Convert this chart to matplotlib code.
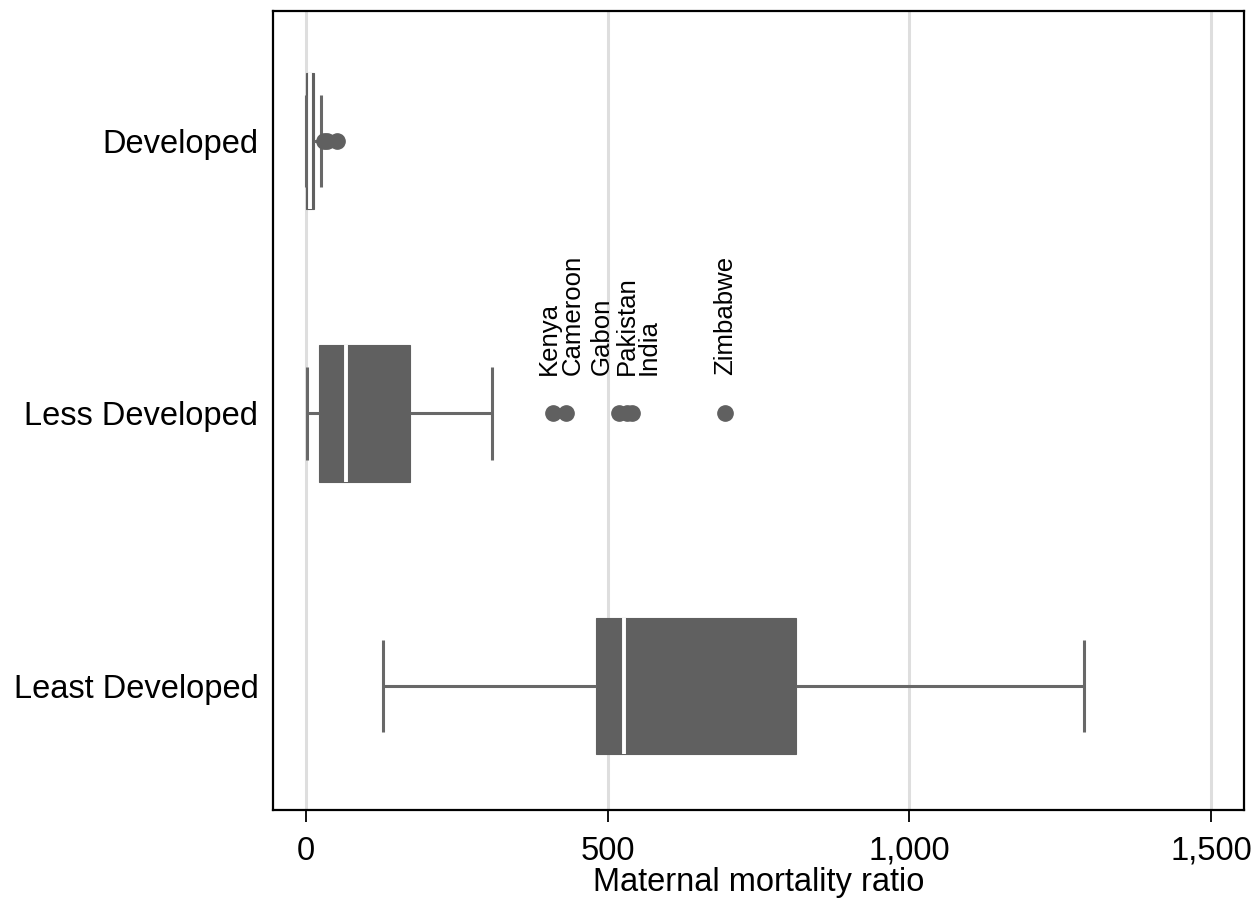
import matplotlib
matplotlib.use("Agg")
import matplotlib.pyplot as plt

plt.rcParams['font.family'] = ['Liberation Sans', 'DejaVu Sans']

# groups, top to bottom
groups = ["Developed", "Less Developed", "Least Developed"]

# box summaries
whislo = [0, 1, 128]
q1 = [0.5, 22, 481]
med = [7, 67, 527]
q3 = [13, 172, 812]
whishi = [25, 309, 1290]

dev_outliers = [30, 34, 51]
less_outliers = [409, 431, 518, 532, 541, 695]
less_names = ["Kenya", "Cameroon", "Gabon", "Pakistan", "India", "Zimbabwe"]
least_outliers = []

xticks = [0, 500, 1000, 1500]
xticklabels = ["0", "500", "1,000", "1,500"]

# label nudges in points so names do not overlap
label_dx = [-3, 5, -12, 0, 12, 0]

box_col = "#606060"
line_col = "#686868"

fig = plt.figure(figsize=(12.56, 8.98), dpi=100)
ax = fig.add_axes([273/1256, 1-810/898, (1244-273)/1256, (810-11)/898])

stats = []
fl = [dev_outliers, less_outliers, least_outliers]
for i in range(len(groups)):
    stats.append({"label": groups[i], "whislo": whislo[i], "q1": q1[i], "med": med[i],
                  "q3": q3[i], "whishi": whishi[i], "fliers": fl[i]})

ax.bxp(stats, positions=range(len(groups)), orientation="horizontal", widths=0.5,
       capwidths=0.34, patch_artist=True,
       boxprops=dict(facecolor=box_col, edgecolor=box_col, linewidth=0.8),
       whiskerprops=dict(color=line_col, linewidth=2.2, solid_capstyle="butt"),
       capprops=dict(color=line_col, linewidth=2.2, solid_capstyle="butt"),
       medianprops=dict(color="white", linewidth=2.8, solid_capstyle="butt"),
       flierprops=dict(marker="o", markerfacecolor=box_col, markeredgecolor=box_col,
                       markersize=11, linestyle="none"),
       zorder=3)

for i in range(len(less_names)):
    ax.annotate(less_names[i], xy=(less_outliers[i], 1), xytext=(label_dx[i], 28),
                textcoords="offset points", rotation=90, ha="center", va="bottom",
                fontsize=18.5, color="black")

ax.set_xlim(-54.7, 1554.8)
ax.set_ylim(2.455, -0.477)
ax.set_yticks(range(len(groups)))
ax.set_yticklabels(groups)
ax.set_xticks(xticks)
ax.set_xticklabels(xticklabels)
ax.tick_params(axis="y", length=0, pad=10.5, labelsize=23.5)
ax.tick_params(axis="x", length=8.6, width=1.3, pad=10, labelsize=23.5, direction="out")
ax.xaxis.grid(True, color="#dedede", linewidth=2.2, zorder=0)
ax.set_axisbelow(True)
for s in ax.spines.values():
    s.set_linewidth(1.6)
ax.set_xlabel("Maternal mortality ratio", fontsize=23.5, labelpad=0)

fig.savefig("out.png", dpi=100)
